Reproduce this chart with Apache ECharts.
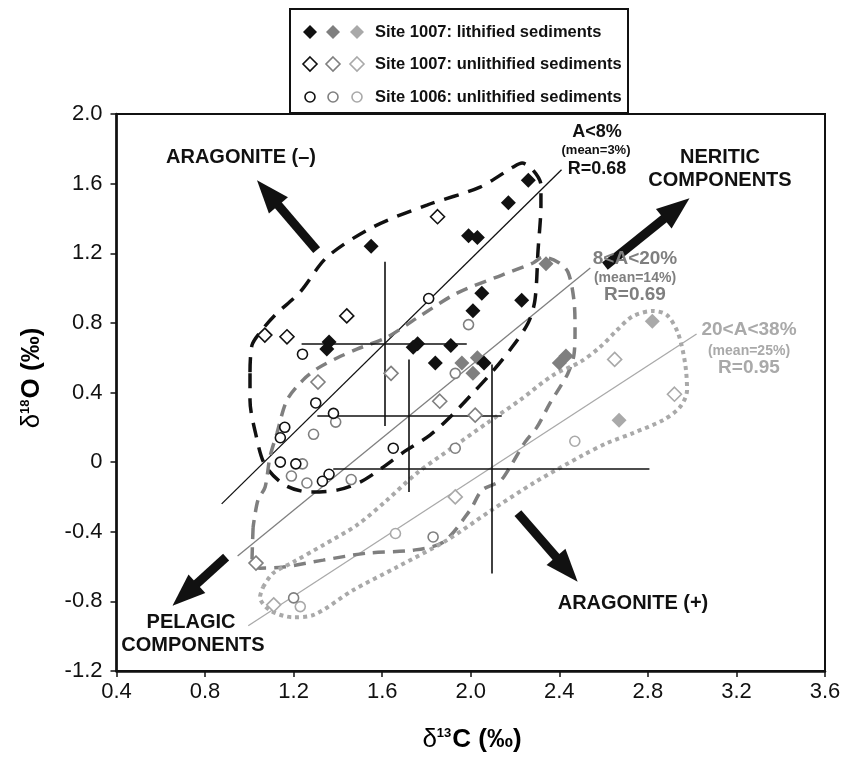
<!DOCTYPE html>
<html>
<head>
<meta charset="utf-8">
<script src="https://cdn.jsdelivr.net/npm/echarts@6/dist/echarts.min.js"></script>
<style>html,body{margin:0;padding:0;background:#fff}#chart01{width:845px;height:762px}</style>
</head>
<body>
<div id="chart01"></div>
<script>
var FONT = '"Liberation Sans", Arial, sans-serif';
var BLACK = '#111111', MID = '#7f7f7f', LIGHT = '#a9a9a9';

// Site 1007 lithified sediments (filled diamonds)
var lithBlack = [[2.26,1.62],[2.17,1.49],[1.99,1.30],[2.03,1.29],[1.55,1.24],[2.05,0.97],[2.01,0.87],[2.23,0.93],[1.36,0.69],[1.35,0.65],[1.76,0.68],[1.74,0.66],[1.91,0.67],[1.84,0.57],[2.06,0.57]];
var lithMid = [[2.34,1.14],[1.96,0.57],[2.03,0.60],[2.01,0.51],[2.40,0.57],[2.43,0.61]];
var lithLight = [[2.82,0.81],[2.67,0.24]];
// Site 1007 unlithified sediments (open diamonds)
var unlBlack = [[1.85,1.41],[1.44,0.84],[1.07,0.73],[1.17,0.72]];
var unlMid = [[1.64,0.51],[1.31,0.46],[1.86,0.35],[2.02,0.27],[1.03,-0.58]];
var unlLight = [[2.65,0.59],[2.92,0.39],[1.93,-0.20],[1.11,-0.82]];
// Site 1006 unlithified sediments (open circles)
var s1006Black = [[1.81,0.94],[1.24,0.62],[1.30,0.34],[1.38,0.28],[1.16,0.20],[1.14,0.14],[1.14,0.00],[1.21,-0.01],[1.36,-0.07],[1.33,-0.11],[1.65,0.08]];
var s1006Mid = [[1.99,0.79],[1.93,0.51],[1.39,0.23],[1.29,0.16],[1.24,-0.01],[1.19,-0.08],[1.26,-0.12],[1.46,-0.10],[1.93,0.08],[1.83,-0.43],[1.20,-0.78]];
var s1006Light = [[2.47,0.12],[1.66,-0.41],[1.23,-0.83]];

// regression lines
var fitA8 = [[0.875,-0.24],[2.41,1.68]];
var fitA20 = [[0.947,-0.54],[2.54,1.115]];
var fitA38 = [[0.995,-0.94],[3.02,0.736]];

// mean +/- range crosses (A<8, 8<A<20, 20<A<38)
var crossX = [1.61, 1.722, 2.095];
var crossY = [0.68, 0.264, -0.04];
var crossXRange = [[1.236,1.982],[1.307,2.14],[1.379,2.807]];
var crossYRange = [[0.207,1.151],[-0.171,0.59],[-0.64,0.561]];

// envelopes
var envA8 = [[1.003,0.517],[1.012,0.672],[1.057,0.759],[1.116,0.845],[1.229,0.977],[1.351,1.178],[1.559,1.351],[1.802,1.477],[2.042,1.58],[2.191,1.695],[2.232,1.718],[2.281,1.678],[2.317,1.592],[2.317,1.477],[2.304,1.218],[2.29,0.931],[2.259,0.799],[2.177,0.644],[2.096,0.517],[2.01,0.397],[1.915,0.27],[1.816,0.155],[1.703,0.063],[1.599,-0.034],[1.5,-0.115],[1.396,-0.161],[1.274,-0.172],[1.161,-0.132],[1.071,-0.017],[1.03,0.155],[1.003,0.356],[1.003,0.517]];
var envA20 = [[1.017,-0.374],[1.012,-0.58],[1.048,-0.609],[1.152,-0.603],[1.333,-0.563],[1.531,-0.523],[1.739,-0.506],[1.875,-0.46],[1.997,-0.276],[2.051,-0.161],[2.132,-0.109],[2.177,-0.029],[2.245,0.115],[2.299,0.201],[2.358,0.339],[2.403,0.431],[2.439,0.511],[2.466,0.615],[2.471,0.759],[2.466,0.931],[2.439,1.092],[2.394,1.149],[2.326,1.178],[2.281,1.144],[2.141,1.075],[1.938,0.971],[1.757,0.828],[1.622,0.718],[1.486,0.649],[1.396,0.598],[1.31,0.54],[1.242,0.471],[1.17,0.356],[1.125,0.167],[1.093,0.029],[1.071,-0.144],[1.039,-0.218],[1.017,-0.374]];
var envA38 = [[1.062,-0.718],[1.107,-0.638],[1.197,-0.575],[1.333,-0.477],[1.486,-0.362],[1.622,-0.218],[1.757,-0.063],[1.92,0.086],[2.073,0.224],[2.222,0.356],[2.372,0.5],[2.494,0.575],[2.584,0.661],[2.661,0.759],[2.733,0.839],[2.823,0.868],[2.886,0.845],[2.936,0.741],[2.968,0.569],[2.977,0.414],[2.945,0.316],[2.868,0.241],[2.733,0.167],[2.615,0.109],[2.507,0.04],[2.29,-0.115],[2.087,-0.282],[1.893,-0.448],[1.667,-0.603],[1.468,-0.736],[1.288,-0.879],[1.197,-0.891],[1.093,-0.851],[1.048,-0.776],[1.062,-0.718]];

// direction arrows: tail and head
var arrowTail = [[1.304,1.218],[2.606,1.126],[0.895,-0.546],[2.213,-0.293]];
var arrowHead = [[1.083,1.547],[2.93,1.457],[0.708,-0.762],[2.434,-0.616]];

var myChart = echarts.init(document.getElementById('chart01'), null, {renderer:'canvas'});

function scatter(data, symbol, color, filled, size) {
    return {
        type: 'scatter', data: data, symbol: symbol, symbolSize: size, z: 5,
        itemStyle: filled ? {color: color, opacity: 1} : {color: '#fff', borderColor: color, borderWidth: 1.6, opacity: 1}
    };
}
function envelope(data, color, dash, width) {
    return {
        type: 'line', data: data, smooth: 0.3, symbol: 'none', z: 3, silent: true,
        lineStyle: {color: color, width: width, type: dash, cap: 'butt'}
    };
}
function fit(data, color) {
    return {type: 'line', data: data, symbol: 'none', z: 2, silent: true, lineStyle: {color: color, width: 1.3}};
}
var crossLines = [];
for (var i = 0; i < crossX.length; i++) {
    crossLines.push([{coord: [crossXRange[i][0], crossY[i]]}, {coord: [crossXRange[i][1], crossY[i]]}]);
    crossLines.push([{coord: [crossX[i], crossYRange[i][0]]}, {coord: [crossX[i], crossYRange[i][1]]}]);
}
var arrowLines = [];
for (var j = 0; j < arrowTail.length; j++) {
    arrowLines.push([{coord: arrowTail[j]}, {coord: arrowHead[j]}]);
}

function txt(t, x, y, size, color) {
    return {type: 'text', x: x, y: y, z: 20, style: {text: t, fill: color || BLACK, font: 'bold ' + size + 'px ' + FONT, align: 'center', verticalAlign: 'middle'}};
}
function diamond(cx, cy, color, filled) {
    return {type: 'polygon', z: 21, shape: {points: [[cx, cy - 7], [cx + 7, cy], [cx, cy + 7], [cx - 7, cy]]},
        style: filled ? {fill: color} : {fill: '#fff', stroke: color, lineWidth: 1.6}};
}
function ring(cx, cy, color) {
    return {type: 'circle', z: 21, shape: {cx: cx, cy: cy, r: 5}, style: {fill: '#fff', stroke: color, lineWidth: 1.6}};
}
var shades = [BLACK, MID, LIGHT];
var mx = [310, 333, 357];
var rows = [32, 64, 97];
var legendItems = [{type: 'rect', z: 20, shape: {x: 290, y: 9, width: 338, height: 104}, style: {fill: '#fff', stroke: '#111', lineWidth: 2}}];
for (var k = 0; k < 3; k++) {
    legendItems.push(diamond(mx[k], rows[0], shades[k], true));
    legendItems.push(diamond(mx[k], rows[1], shades[k], false));
    legendItems.push(ring(mx[k], rows[2], shades[k]));
}
var legendText = ['Site 1007: lithified sediments', 'Site 1007: unlithified sediments', 'Site 1006: unlithified sediments'];
for (var r = 0; r < 3; r++) {
    legendItems.push({type: 'text', x: 375, y: rows[r], z: 21, style: {text: legendText[r], fill: BLACK, font: 'bold 16.5px ' + FONT, align: 'left', verticalAlign: 'middle'}});
}

var axisTitleRich = {
    d: {fontSize: 26, fontFamily: FONT, color: BLACK},
    s: {fontSize: 13, fontFamily: FONT, fontWeight: 'bold', color: BLACK, verticalAlign: 'top', padding: [0, 1, 0, 0]},
    o: {fontSize: 26, fontFamily: FONT, fontWeight: 'bold', color: BLACK}
};
function tickFmt(v) { return Math.abs(v) < 1e-9 ? '0' : v.toFixed(1); }

option = {
    animation: false,
    backgroundColor: '#fff',
    grid: {left: 116.5, right: 20, top: 114, bottom: 91, show: true, borderColor: '#111', borderWidth: 2},
    xAxis: {
        type: 'value', min: 0.4, max: 3.6, interval: 0.4,
        axisLine: {onZero: false, lineStyle: {color: '#111', width: 2.5}},
        axisTick: {inside: false, length: 6, lineStyle: {color: '#111', width: 1.5}},
        axisLabel: {fontSize: 22, fontFamily: FONT, color: '#111', margin: 10, formatter: tickFmt},
        splitLine: {show: false}
    },
    yAxis: {
        type: 'value', min: -1.2, max: 2.0, interval: 0.4,
        axisLine: {onZero: false, lineStyle: {color: '#111', width: 2.5}},
        axisTick: {inside: false, length: 6, lineStyle: {color: '#111', width: 1.5}},
        axisLabel: {fontSize: 22, fontFamily: FONT, color: '#111', margin: 14, formatter: tickFmt},
        splitLine: {show: false}
    },
    series: [
        envelope(envA8, BLACK, [15, 10], 3.5),
        envelope(envA20, MID, [12, 8], 3.5),
        envelope(envA38, LIGHT, [4, 4], 4),
        fit(fitA8, BLACK),
        fit(fitA20, MID),
        fit(fitA38, LIGHT),
        {
            type: 'line', data: [], symbol: 'none', z: 4, silent: true,
            markLine: {silent: true, symbol: ['none', 'none'], label: {show: false}, animation: false,
                lineStyle: {color: BLACK, width: 1.6, type: 'solid'}, data: crossLines}
        },
        {
            type: 'line', data: [], symbol: 'none', z: 4, silent: true,
            markLine: {silent: true, symbol: ['none', 'triangle'], symbolSize: [25, 33], label: {show: false}, animation: false,
                lineStyle: {color: BLACK, width: 9, type: 'solid', opacity: 1}, itemStyle: {color: BLACK}, data: arrowLines}
        },
        scatter(s1006Light, 'circle', LIGHT, false, 10),
        scatter(s1006Mid, 'circle', MID, false, 10),
        scatter(s1006Black, 'circle', BLACK, false, 10),
        scatter(unlLight, 'diamond', LIGHT, false, 14),
        scatter(unlMid, 'diamond', MID, false, 14),
        scatter(unlBlack, 'diamond', BLACK, false, 14),
        scatter(lithLight, 'diamond', LIGHT, true, 15),
        scatter(lithMid, 'diamond', MID, true, 15),
        scatter(lithBlack, 'diamond', BLACK, true, 15)
    ],
    graphic: legendItems.concat([
        txt('ARAGONITE (–)', 241, 157, 20),
        txt('A<8%', 597, 132, 18),
        txt('(mean=3%)', 596, 150, 13),
        txt('R=0.68', 597, 169, 18),
        txt('NERITIC', 720, 157, 20),
        txt('COMPONENTS', 720, 180, 20),
        txt('8<A<20%', 635, 259, 19, MID),
        txt('(mean=14%)', 635, 278, 14, MID),
        txt('R=0.69', 635, 295, 19, MID),
        txt('20<A<38%', 749, 330, 19, LIGHT),
        txt('(mean=25%)', 749, 351, 14, LIGHT),
        txt('R=0.95', 749, 368, 19, LIGHT),
        txt('ARAGONITE (+)', 633, 603, 20),
        txt('PELAGIC', 191, 622, 20),
        txt('COMPONENTS', 193, 645, 20),
        {type: 'text', x: 32, y: 378, rotation: Math.PI / 2, z: 20,
            style: {text: '{d|δ}{s|18}{o|O (‰)}', rich: axisTitleRich, align: 'center', verticalAlign: 'middle'}},
        {type: 'text', x: 472, y: 740, z: 20,
            style: {text: '{d|δ}{s|13}{o|C (‰)}', rich: axisTitleRich, align: 'center', verticalAlign: 'middle'}}
    ])
};
if (option && typeof option === "object") {
    myChart.setOption(option, true);
}
</script>
</body>
</html>
